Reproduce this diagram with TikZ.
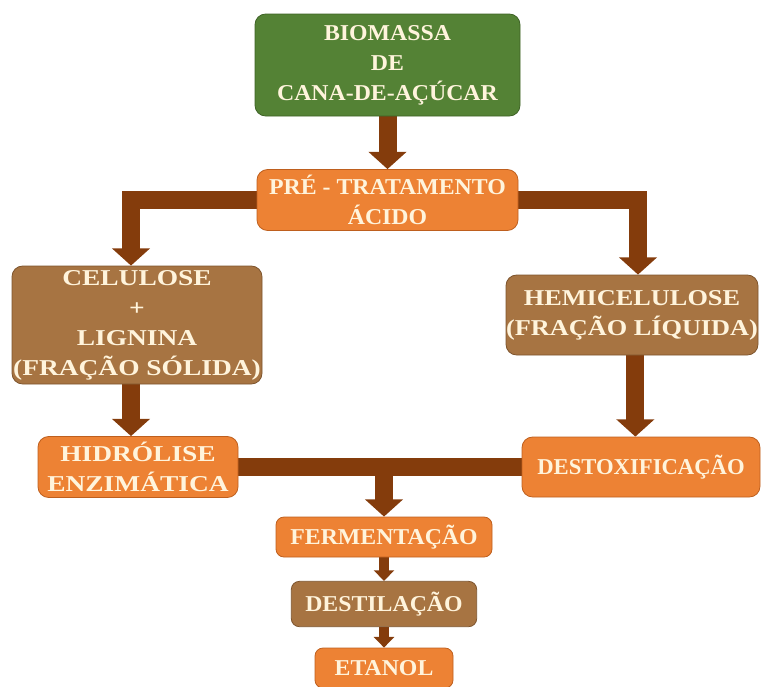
\documentclass[tikz,border=0pt]{standalone}
\usepackage{fontspec}
\setmainfont{Liberation Serif}
\newfontfamily\stagefont{Liberation Serif}[FakeStretch=1.05]
\newfontfamily\widefont{Liberation Serif}[FakeStretch=1.21]
\newfontfamily\hemifont{Liberation Serif}[FakeStretch=1.16]
\usetikzlibrary{positioning,arrows.meta,backgrounds}
\definecolor{canegreen}{RGB}{84,130,53}
\definecolor{canegreenline}{RGB}{62,98,38}
\definecolor{stageorange}{RGB}{237,130,52}
\definecolor{stageorangeline}{RGB}{190,95,30}
\definecolor{fracbrown}{RGB}{167,116,66}
\definecolor{fracbrownline}{RGB}{125,84,45}
\definecolor{flowbrown}{RGB}{132,60,12}
\definecolor{labelcream}{RGB}{255,244,220}

\tikzset{
  stage/.style={rectangle, rounded corners=8pt, draw=stageorangeline, line width=0.6pt,
    fill=stageorange, text=labelcream, align=center, inner sep=0pt,
    font=\stagefont\bfseries\fontsize{17}{22.5}\selectfont},
  widetext/.style={font=\widefont\bfseries\fontsize{17}{22.5}\selectfont},
  rawbox/.style={stage, fill=canegreen, draw=canegreenline},
  fracbox/.style={stage, fill=fracbrown, draw=fracbrownline},
  flow/.style={draw=flowbrown, line width=13.5pt,
    -{Triangle[width=28pt,length=13pt]}, flowbrown},
  bar/.style={draw=flowbrown, line width=13.5pt},
  smallflow/.style={draw=flowbrown, line width=7pt,
    -{Triangle[width=15pt,length=8pt]}, flowbrown}
}

\begin{document}
\begin{tikzpicture}[x=0.75pt,y=-0.75pt]
\useasboundingbox (0,0) rectangle (763,686);
\clip (0,0) rectangle (763,686);
% Raw material and pretreatment
\node[rawbox, minimum width=198.75pt, minimum height=76.5pt] (biomassa) at (387.5,65)
  {BIOMASSA\\DE\\CANA-DE-AÇÚCAR};
\node[stage, minimum width=195.75pt, minimum height=45.75pt] (pretrat) at (387.5,200)
  {PRÉ - TRATAMENTO\\ÁCIDO};
% Fractions
\node[fracbox, widetext, minimum width=187.5pt, minimum height=88.5pt] (celulose) at (137,325)
  {CELULOSE\\+\\LIGNINA\\(FRAÇÃO SÓLIDA)};
\node[fracbox, font=\hemifont\bfseries\fontsize{17}{22.5}\selectfont,
  minimum width=189pt, minimum height=60pt] (hemi) at (632,315)
  {HEMICELULOSE\\(FRAÇÃO LÍQUIDA)};
% Processing of each fraction
\node[stage, widetext, minimum width=150pt, minimum height=45.75pt] (hidrolise) at (138,467)
  {HIDRÓLISE\\ENZIMÁTICA};
\node[stage, font=\bfseries\fontsize{17}{22.5}\selectfont,
  minimum width=178.5pt, minimum height=45pt] (destox) at (641,467)
  {DESTOXIFICAÇÃO};
% Final steps
\node[stage, rounded corners=6pt, minimum width=162pt, minimum height=30pt] (ferment) at (384,537)
  {FERMENTAÇÃO};
\node[fracbox, rounded corners=6pt, minimum width=139pt, minimum height=34pt] (destil) at (384,604)
  {DESTILAÇÃO};
\node[stage, rounded corners=6pt, minimum width=103.5pt, minimum height=30pt] (etanol) at (384,668)
  {ETANOL};
\coordinate (join) at (ferment.north |- hidrolise.east);

% Arrows
\begin{scope}[on background layer]
\draw[flow] (biomassa.south) -- (pretrat.north);
\draw[flow] (pretrat.west) -| ([xshift=-4.5pt]celulose.north);
\draw[flow] (pretrat.east) -| ([xshift=4.5pt]hemi.north);
\draw[flow] ([xshift=-4.5pt]celulose.south) -- ([xshift=-4.5pt]celulose.south |- hidrolise.north);
\draw[flow] ([xshift=2.5pt]hemi.south) -- ([xshift=2.5pt]hemi.south |- destox.north);
\draw[bar] (hidrolise.east) -- (destox.west);
\draw[flow] ([yshift=6.75pt]join) -- (ferment.north);
\draw[smallflow] (ferment.south) -- (destil.north);
\draw[smallflow] (destil.south) -- (etanol.north);
\end{scope}
\end{tikzpicture}
\end{document}
